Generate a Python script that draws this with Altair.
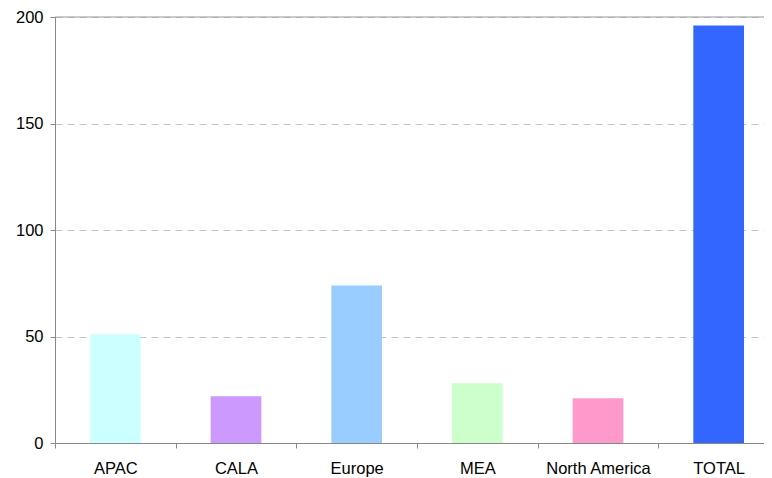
import altair as alt
import pandas as pd

regions = ["APAC", "CALA", "Europe", "MEA", "North America", "TOTAL"]
values = [51, 22, 74, 28, 21, 196]
colors = ["#CCFFFF", "#CC99FF", "#99CCFF", "#CCFFCC", "#FF99CC", "#3366FF"]
y_ticks = [0, 50, 100, 150, 200]

df = pd.DataFrame({"region": regions, "value": values})
top_df = pd.DataFrame({"y": [200]})

bars = alt.Chart(df).mark_bar(width=alt.RelativeBandSize(0.42)).encode(
    x=alt.X(
        "region:N",
        sort=regions,
        scale=alt.Scale(range=[0, 724], paddingInner=0, paddingOuter=0),
        axis=alt.Axis(
            title=None, labelAngle=0, tickBand="extent", grid=False,
            labelPadding=12, tickSize=5,
        ),
    ),
    y=alt.Y(
        "value:Q",
        scale=alt.Scale(domain=[0, 200], nice=False),
        axis=alt.Axis(
            values=y_ticks, title=None, grid=True, gridDash=[7, 5],
            gridColor="#c4c4c4", labelPadding=7, tickSize=5,
        ),
    ),
    color=alt.Color("region:N", scale=alt.Scale(domain=regions, range=colors), legend=None),
)

top_rule = alt.Chart(top_df).mark_rule(color="#999999", strokeWidth=1).encode(
    y=alt.Y("y:Q")
)

chart = alt.layer(bars, top_rule).properties(
    width=709,
    height=426,
    padding={"left": 47, "top": 9, "right": 0, "bottom": 36},
    autosize=alt.AutoSizeParams(type="none"),
).configure_view(stroke=None).configure_axis(
    labelFont="Liberation Sans",
    labelFontSize=16.5,
    labelColor="#000000",
    domainColor="#888888",
    tickColor="#888888",
)

chart.save("out.html", embed_options={"renderer": "svg", "actions": False})
